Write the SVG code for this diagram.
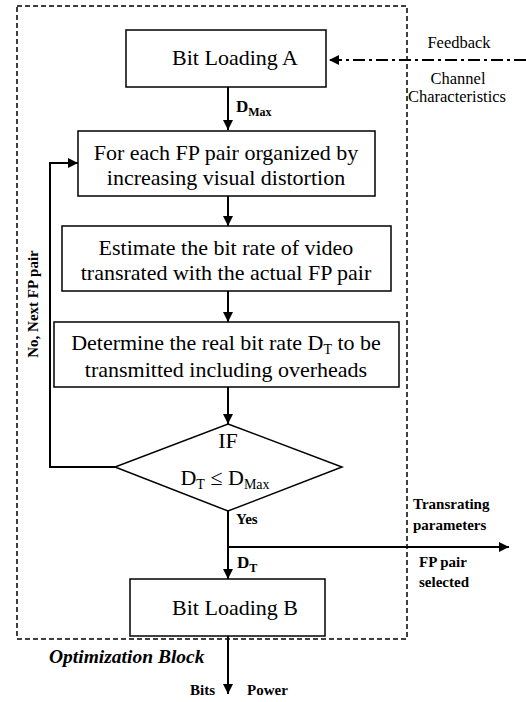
<svg xmlns="http://www.w3.org/2000/svg" width="526" height="702" viewBox="0 0 526 702">
<style>
text{font-family:'Liberation Serif','Times New Roman','DejaVu Serif',serif;fill:#000}
.box{fill:#fff;stroke:#000;stroke-width:1.5}
.ln{fill:none;stroke:#000;stroke-width:2}
.t{font-size:22px;text-anchor:middle}
.s{font-size:16.5px;text-anchor:middle}
.b{font-size:15px;font-weight:bold}
.sub{font-size:14px}
.bsub{font-size:12px}
</style>
<defs>
<marker id="ah" viewBox="0 0 10 10" refX="10" refY="5" markerWidth="10" markerHeight="10" markerUnits="userSpaceOnUse" orient="auto">
<path d="M0,0 L10,5 L0,10 z" fill="#000"/>
</marker>
</defs>
<g id="optimization-block">
<rect x="17" y="6" width="390" height="633" fill="none" stroke="#000" stroke-width="1.5" stroke-dasharray="5,3"/>
<text class="b" x="49" y="663" style="font-style:italic;font-size:19.5px">Optimization Block</text>
</g>
<g id="connectors">
<path class="ln" d="M228,87 V130" marker-end="url(#ah)"/>
<path class="ln" d="M228,196 V226" marker-end="url(#ah)"/>
<path class="ln" d="M228,291 V322" marker-end="url(#ah)"/>
<path class="ln" d="M228,387 V424" marker-end="url(#ah)"/>
<path class="ln" d="M115,467 H50 V163 H78" marker-end="url(#ah)"/>
<path class="ln" d="M228,511 V579" marker-end="url(#ah)"/>
<path class="ln" d="M228,547 H509" marker-end="url(#ah)"/>
<path class="ln" d="M228,636 V694" marker-end="url(#ah)"/>
<path class="ln" d="M526,60 H329" stroke-dasharray="12,4,3,4" marker-end="url(#ah)"/>
<text class="b" x="236" y="112" style="font-size:17px">D<tspan class="bsub" dy="4">Max</tspan></text>
<text class="b" x="236" y="524">Yes</text>
<text class="b" x="237" y="568" style="font-size:17px">D<tspan class="bsub" dy="4">T</tspan></text>
<text class="b" transform="translate(38,304) rotate(-90)" text-anchor="middle">No, Next FP pair</text>
<text class="b" x="413" y="509">Transrating</text>
<text class="b" x="413" y="530">parameters</text>
<text class="b" x="419" y="567">FP pair</text>
<text class="b" x="419" y="587">selected</text>
<text class="b" x="190" y="695">Bits</text>
<text class="b" x="247" y="695">Power</text>
<text class="s" x="459" y="48">Feedback</text>
<text class="s" x="458" y="84">Channel</text>
<text class="s" x="457" y="102">Characteristics</text>
</g>
<g id="bit-loading-a">
<rect class="box" x="126" y="30" width="200" height="57"/>
<text class="t" x="235" y="65">Bit Loading A</text>
</g>
<g id="for-each-fp-pair">
<rect class="box" x="78" y="131" width="297" height="65"/>
<text class="t" x="226" y="160">For each FP pair organized by</text>
<text class="t" x="226" y="185">increasing visual distortion</text>
</g>
<g id="estimate-bit-rate">
<rect class="box" x="62" y="226" width="329" height="65"/>
<text class="t" x="226" y="255">Estimate the bit rate of video</text>
<text class="t" x="226" y="280">transrated with the actual FP pair</text>
</g>
<g id="determine-real-bit-rate">
<rect class="box" x="54" y="322" width="345" height="65"/>
<text class="t" x="226" y="350">Determine the real bit rate D<tspan class="sub" dy="4">T</tspan><tspan dy="-4"> to be</tspan></text>
<text class="t" x="226" y="377">transmitted including overheads</text>
</g>
<g id="if-decision">
<polygon class="box" points="228,424 342,467 228,511 115,467"/>
<text class="t" x="228" y="448">IF</text>
<text class="t" x="225" y="485">D<tspan class="sub" dy="4">T</tspan><tspan dy="-4"> ≤ D</tspan><tspan class="sub" dy="4">Max</tspan></text>
</g>
<g id="bit-loading-b">
<rect class="box" x="130" y="579" width="195" height="57"/>
<text class="t" x="235" y="615">Bit Loading B</text>
</g>
</svg>
